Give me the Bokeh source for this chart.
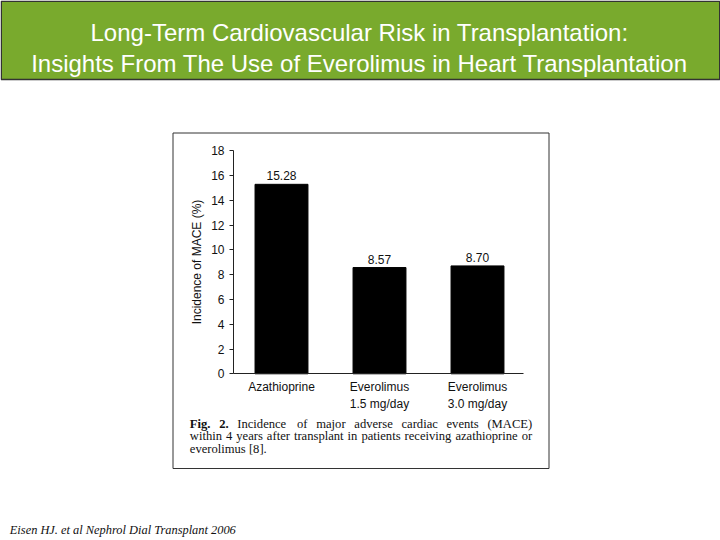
from bokeh.plotting import figure
from bokeh.models import Range1d, FixedTicker, LinearAxis
from bokeh.core.properties import value
from bokeh.embed import file_html
from bokeh.resources import INLINE

# ---- data ----
categories = ["Azathioprine", "Everolimus\n1.5 mg/day", "Everolimus\n3.0 mg/day"]
mace_pct = [15.28, 8.57, 8.70]
y_ticks = [0, 2, 4, 6, 8, 10, 12, 14, 16, 18]
title_lines = ["Long-Term Cardiovascular Risk in Transplantation:",
               "Insights From The Use of Everolimus in Heart Transplantation"]
y_label = "Incidence of MACE (%)"
caption_bold = "Fig. 2."
caption_line1 = "Incidence of major adverse cardiac events (MACE)"
caption_line2 = "within 4 years after transplant in patients receiving azathioprine or"
caption_line3 = "everolimus [8]."
footer = "Eisen HJ. et al Nephrol Dial Transplant 2006"

# ---- layout constants (pixels of the 720x540 page) ----
W, H = 720, 540
X_ORIGIN_PX = 183.0      # pixel where category position 0 would sit
CAT_STEP_PX = 98.0       # pixels per category
Y_ZERO_PX = 373.3        # pixel of y = 0
Y_UNIT_PX = 12.4         # pixels per percentage point
AXIS_LEFT_PX, AXIS_RIGHT_PX = 233.0, 523.0

x_lo = (0 - X_ORIGIN_PX) / CAT_STEP_PX
x_hi = (W - X_ORIGIN_PX) / CAT_STEP_PX
y_hi = (Y_ZERO_PX - 0) / Y_UNIT_PX
y_lo = (Y_ZERO_PX - H) / Y_UNIT_PX
x_axis_lo = (AXIS_LEFT_PX - X_ORIGIN_PX) / CAT_STEP_PX
x_axis_hi = (AXIS_RIGHT_PX - X_ORIGIN_PX) / CAT_STEP_PX

p = figure(width=W, height=H, output_backend="svg", toolbar_location=None,
           x_range=Range1d(x_lo, x_hi), y_range=Range1d(y_lo, y_hi),
           x_axis_type=None, y_axis_type=None,
           min_border=0, min_border_left=0, min_border_right=0,
           min_border_top=0, min_border_bottom=0)
p.outline_line_color = None
p.background_fill_color = "white"
p.border_fill_color = "white"
p.xgrid.grid_line_color = None
p.ygrid.grid_line_color = None
p.extra_x_ranges = {"px": Range1d(0, W)}
p.extra_y_ranges = {"px": Range1d(H, 0)}

FONT_SANS = value("Liberation Sans")
FONT_SERIF = value("Liberation Serif")

# ---- banner ----
p.quad(left=[0.75], right=[719.25], top=[0.75], bottom=[79], x_range_name="px", y_range_name="px",
       fill_color="#79aa2d", line_color="#333333", line_width=1.5)
p.text(x=[359, 359], y=[31.5, 63], text=title_lines, x_range_name="px", y_range_name="px",
       text_align="center", text_baseline="alphabetic", text_color="white",
       text_font=FONT_SANS, text_font_size="24px")

# ---- chart box ----
p.quad(left=[172.5], right=[548.5], top=[132.5], bottom=[468], x_range_name="px", y_range_name="px",
       fill_color=None, line_color="#333333", line_width=1)

# ---- bars ----
positions = [i + 1 for i in range(len(categories))]
p.vbar(x=positions, top=mace_pct, width=0.54, fill_color="black", line_color="black")
LABEL_GAP_PX = 4.0
p.text(x=positions, y=[v + LABEL_GAP_PX / Y_UNIT_PX for v in mace_pct],
       text=[f"{v:.2f}" for v in mace_pct],
       text_align="center", text_baseline="bottom",
       text_font=FONT_SANS, text_font_size="12px", text_color="#111111")

# ---- axes placed at the chart origin ----
ya = LinearAxis(fixed_location=x_axis_lo, bounds=(0, 18), ticker=FixedTicker(ticks=y_ticks))
ya.axis_label = y_label
ya.axis_label_text_font = "Liberation Sans"
ya.axis_label_text_font_size = "12px"
ya.axis_label_text_font_style = "normal"
ya.axis_label_text_color = "#111111"
ya.axis_label_standoff = 4
ya.major_label_text_font = "Liberation Sans"
ya.major_label_text_font_size = "12px"
ya.major_label_text_color = "#111111"
ya.major_tick_out = 4
ya.major_tick_in = 0
ya.minor_tick_line_color = None
ya.major_label_standoff = 5
ya.axis_line_color = "#222222"
ya.major_tick_line_color = "#222222"
p.add_layout(ya, "left")

xa = LinearAxis(fixed_location=0, bounds=(x_axis_lo, x_axis_hi), ticker=FixedTicker(ticks=positions))
xa.major_label_overrides = {pos: name for pos, name in zip(positions, categories)}
xa.major_tick_line_color = None
xa.major_tick_out = 0
xa.major_tick_in = 0
xa.minor_tick_line_color = None
xa.major_label_standoff = 6
xa.major_label_text_font = "Liberation Sans"
xa.major_label_text_font_size = "12px"
xa.major_label_text_color = "#111111"
xa.axis_line_color = "#222222"
p.add_layout(xa, "below")

# ---- caption (justified paragraph, Times metrics used for word widths) ----
TIMES = {c: w for c, w in zip("abcdefghijklmnopqrstuvwxyz",
                              [444, 500, 444, 500, 444, 333, 500, 500, 278, 278, 500, 278, 778,
                               500, 500, 500, 500, 333, 389, 278, 500, 500, 722, 500, 500, 444])}
TIMES.update({"A": 722, "C": 667, "E": 611, "F": 556, "M": 889, ".": 250, "(": 333, ")": 333,
              "[": 333, "]": 333, " ": 250})
TIMES.update({d: 500 for d in "0123456789"})
TIMES_BOLD = dict(TIMES, F=611, g=500)
CAP_SIZE = 12.6
CAP_LEFT, CAP_RIGHT = 189.3, 531.7


def text_w(s, table):
    return sum(table.get(c, 500) for c in s) * CAP_SIZE / 1000.0


def justify(words, tables):
    widths = [text_w(w, t) for w, t in zip(words, tables)]
    gap = (CAP_RIGHT - CAP_LEFT - sum(widths)) / (len(words) - 1)
    xs, x = [], CAP_LEFT
    for wdt in widths:
        xs.append(x)
        x += wdt + gap
    return xs


bold_words = caption_bold.split()
words1 = bold_words + caption_line1.split()
tables1 = [TIMES_BOLD] * len(bold_words) + [TIMES] * (len(words1) - len(bold_words))
xs1 = justify(words1, tables1)
words2 = caption_line2.split()
xs2 = justify(words2, [TIMES] * len(words2))

CAP_Y = [423.0, 435.8, 448.6]
nb = len(bold_words)
p.text(x=xs1[:nb], y=[CAP_Y[0]] * nb, text=words1[:nb], x_range_name="px", y_range_name="px",
       text_align="left", text_baseline="alphabetic", text_font=FONT_SERIF,
       text_font_size=f"{CAP_SIZE}px", text_font_style="bold", text_color="#111111")
p.text(x=xs1[nb:], y=[CAP_Y[0]] * (len(words1) - nb), text=words1[nb:],
       x_range_name="px", y_range_name="px",
       text_align="left", text_baseline="alphabetic", text_font=FONT_SERIF,
       text_font_size=f"{CAP_SIZE}px", text_color="#111111")
p.text(x=xs2, y=[CAP_Y[1]] * len(words2), text=words2,
       x_range_name="px", y_range_name="px",
       text_align="left", text_baseline="alphabetic", text_font=FONT_SERIF,
       text_font_size=f"{CAP_SIZE}px", text_color="#111111")
p.text(x=[CAP_LEFT], y=[CAP_Y[2]], text=[caption_line3],
       x_range_name="px", y_range_name="px",
       text_align="left", text_baseline="alphabetic", text_font=FONT_SERIF,
       text_font_size=f"{CAP_SIZE}px", text_color="#111111")

# ---- footer ----
p.text(x=[9.3], y=[529.3], text=[footer], x_range_name="px", y_range_name="px",
       text_align="left", text_baseline="alphabetic", text_font=FONT_SERIF,
       text_font_size="12.4px", text_font_style="italic", text_color="#111111")

open("out.html", "w").write(file_html(p, INLINE))
